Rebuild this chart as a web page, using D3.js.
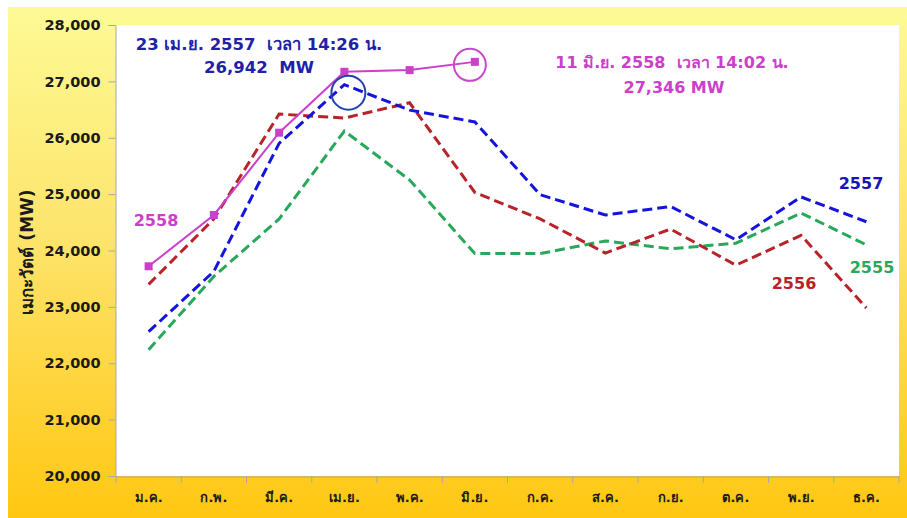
<!DOCTYPE html>
<html><head><meta charset="utf-8">
<script src="https://cdn.jsdelivr.net/npm/d3@7"></script>
<style>body{margin:0;background:#fff}svg{display:block}text{font-family:Tahoma,"DejaVu Sans",sans-serif;font-weight:bold;white-space:pre}</style>
</head><body><svg id="c" width="907" height="518"></svg>
<script>
const months = ["ม.ค.","ก.พ.","มี.ค.","เม.ย.","พ.ค.","มิ.ย.","ก.ค.","ส.ค.","ก.ย.","ต.ค.","พ.ย.","ธ.ค."];
const yTicks = [20000,21000,22000,23000,24000,25000,26000,27000,28000];
const s2558 = [23720,24630,26090,27170,27200,27346];
const s2557 = [22560,23630,25900,26942,26490,26280,24990,24630,24780,24190,24950,24510];
const s2556 = [23400,24560,26420,26350,26620,25030,24560,23955,24380,23740,24270,22980];
const s2555 = [22240,23540,24560,26120,25250,23945,23945,24170,24030,24130,24665,24100];
const peakLabels = [
  {line1:"23 เม.ย. 2557  เวลา 14:26 น.", line2:"26,942  MW"},
  {line1:"11 มิ.ย. 2558  เวลา 14:02 น.", line2:"27,346 MW"}
];

const svg = d3.select("#c");
const L=116, R=899, T=25, B=476;
const defs = svg.append("defs");
const g = defs.append("linearGradient").attr("id","bg").attr("x1",0).attr("y1",0).attr("x2",0).attr("y2",1);
g.append("stop").attr("offset","0%").attr("stop-color","#FDFA95");
g.append("stop").attr("offset","45%").attr("stop-color","#FDE46C");
g.append("stop").attr("offset","100%").attr("stop-color","#FFC712");
svg.append("rect").attr("width",907).attr("height",518).attr("fill","#fff");
svg.append("rect").attr("x",8).attr("y",7).attr("width",899).attr("height",511).attr("fill","url(#bg)");
svg.append("rect").attr("x",L).attr("y",T).attr("width",R-L).attr("height",B-T).attr("fill","#fff");

const x = d3.scaleBand().domain(months).range([L,R]);
const y = d3.scaleLinear().domain([20000,28000]).range([B,T]);
const cx = m => x(m)+x.bandwidth()/2;

const yAx = svg.append("g").attr("transform",`translate(${L-0.5},0)`)
  .call(d3.axisLeft(y).tickValues(yTicks).tickFormat(d3.format(",")).tickSize(7).tickPadding(8));
yAx.select(".domain").attr("stroke","#a8a8a8");
yAx.selectAll(".tick line").attr("stroke","#a8a8a8");
yAx.selectAll("text").attr("font-size","14.5px").attr("fill","#1a1a1a");

const xAx = svg.append("g").attr("transform",`translate(0,${B+0.5})`)
  .call(d3.axisBottom(x).tickSize(0).tickPadding(16));
xAx.select(".domain").attr("stroke","#a8a8a8");
xAx.selectAll("text").attr("font-size","13px").attr("fill","#1a1a1a");
svg.append("g").selectAll("line").data(d3.range(months.length+1)).join("line")
  .attr("x1",i=>L+i*x.step()).attr("x2",i=>L+i*x.step()).attr("y1",B).attr("y2",B+7)
  .attr("stroke","#a8a8a8");

svg.append("text").attr("transform","translate(33,252) rotate(-90)").attr("text-anchor","middle")
  .attr("font-size","17px").attr("fill","#1a1a1a").text("เมกะวัตต์ (MW)");

const line = d3.line().x((d,i)=>cx(months[i])).y(d=>y(d));
const series = [
  {data:s2555,color:"#27A85A"},
  {data:s2556,color:"#B8232A"},
  {data:s2557,color:"#1414DC"}
];
series.forEach(s=>{
  svg.append("path").attr("d",line(s.data)).attr("fill","none").attr("stroke",s.color)
    .attr("stroke-width",3).attr("stroke-dasharray","10,5");
});
svg.append("path").attr("d",line(s2558)).attr("fill","none").attr("stroke","#CC3FCC").attr("stroke-width",2);
svg.append("g").selectAll("rect").data(s2558).join("rect")
  .attr("x",(d,i)=>cx(months[i])-4).attr("y",d=>y(d)-4).attr("width",8).attr("height",8).attr("fill","#CC3FCC");

// circles at peaks
svg.append("circle").attr("cx",cx(months[3])+4).attr("cy",y(26942)+8).attr("r",17)
  .attr("fill","none").attr("stroke","#2240B0").attr("stroke-width",2);
svg.append("circle").attr("cx",cx(months[5])-5).attr("cy",y(27346)+3).attr("r",16)
  .attr("fill","none").attr("stroke","#C848C8").attr("stroke-width",2);

// annotations
svg.append("text").attr("x",259).attr("y",50).attr("text-anchor","middle").attr("font-size","16.5px").attr("fill","#1E22A8").text(peakLabels[0].line1);
svg.append("text").attr("x",259).attr("y",73).attr("text-anchor","middle").attr("font-size","16.5px").attr("fill","#1E22A8").text(peakLabels[0].line2);
svg.append("text").attr("x",672).attr("y",68).attr("text-anchor","middle").attr("font-size","16px").attr("fill","#CC3FCC").text(peakLabels[1].line1);
svg.append("text").attr("x",674).attr("y",93).attr("text-anchor","middle").attr("font-size","16px").attr("fill","#CC3FCC").text(peakLabels[1].line2);

// series labels
const lbl = [
  {t:"2558",x:156,y:226,c:"#CC3FCC"},
  {t:"2557",x:861,y:189,c:"#1414B8"},
  {t:"2556",x:794,y:289,c:"#B8232A"},
  {t:"2555",x:872,y:273,c:"#27A85A"}
];
svg.append("g").selectAll("text").data(lbl).join("text").attr("x",d=>d.x).attr("y",d=>d.y)
  .attr("text-anchor","middle").attr("font-size","16px").attr("fill",d=>d.c).text(d=>d.t);
</script></body></html>
